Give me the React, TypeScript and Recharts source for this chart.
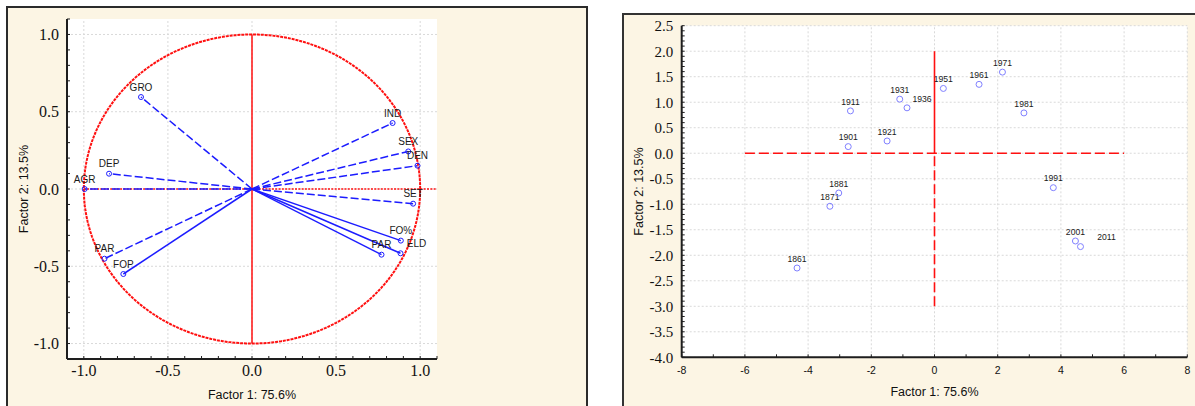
import React from 'react';
import { ScatterChart, Scatter, XAxis, YAxis, ReferenceLine, CartesianGrid } from 'recharts';

// ---------- Left chart: factor loadings of the variables ----------
const variableNames = ['GRO', 'DEP', 'AGR', 'IND', 'SEX', 'DEN', 'SET', 'FO%', 'ELD', 'PAR', 'PAR', 'FOP'];
const factor1Loadings = [-0.66, -0.85, -0.995, 0.836, 0.929, 0.984, 0.958, 0.885, 0.883, 0.77, -0.877, -0.765];
const factor2Loadings = [0.595, 0.099, 0.0, 0.427, 0.243, 0.151, -0.095, -0.334, -0.416, -0.425, -0.451, -0.55];
const dashedLoadings = [true, true, true, true, true, true, true, false, false, false, true, false];

const loadingMajorTicks = [-1, -0.5, 0, 0.5, 1];

// ---------- Right chart: factor scores of the census years ----------
const years = ['1861', '1871', '1881', '1901', '1911', '1921', '1931', '1936', '1951', '1961', '1971', '1981', '1991', '2001', '2011'];
const factor1Scores = [-4.35, -3.31, -3.03, -2.73, -2.66, -1.5, -1.1, -0.87, 0.28, 1.41, 2.15, 2.83, 3.76, 4.46, 4.62];
const factor2Scores = [-2.25, -1.04, -0.78, 0.13, 0.83, 0.24, 1.06, 0.89, 1.27, 1.35, 1.59, 0.79, -0.675, -1.72, -1.83];

const scoreXMajorTicks = [-8, -6, -4, -2, 0, 2, 4, 6, 8];
const scoreYMajorTicks = [-4, -3.5, -3, -2.5, -2, -1.5, -1, -0.5, 0, 0.5, 1, 1.5, 2, 2.5];

// ---------- derived tables ----------
const range = (from: number, to: number, div: number) => {
  const out: number[] = [];
  for (let i = from; i <= to; i++) out.push(i / div);
  return out;
};
const loadingMinorTicks = range(-11, 11, 10);
const scoreXMinorTicks = range(-8, 8, 1);
const scoreYMinorTicks = range(-40, 25, 10);

const loadingData = variableNames.map((name, i) => ({ name, x: factor1Loadings[i], y: factor2Loadings[i] }));
const scoreData = years.map((name, i) => ({ name, x: factor1Scores[i], y: factor2Scores[i] }));
// unit correlation circle (reference geometry, not data)
const unitCircle = Array.from({ length: 181 }, (_, i) => {
  const a = (i / 180) * 2 * Math.PI;
  return { x: Math.cos(a), y: Math.sin(a) };
});

const labelShiftX: Record<string, number> = { ELD: 16, '1936': 15, '2011': 26 };

const CREAM = '#fcf5e4';
const SERIF = '"Liberation Serif", "Times New Roman", serif';
const SANS = '"Liberation Sans", Arial, sans-serif';
const RED = '#ff1010';
const BLUE = '#1c1cff';
const GRID = '#d9d9d9';
const AXIS = '#1e1e1e';

const isMultiple = (v: number, step: number) => Math.abs(v / step - Math.round(v / step)) < 1e-6;
const fmtLoading = (v: number) => (isMultiple(v, 0.5) ? v.toFixed(1) : '');
const fmtScoreX = (v: number) => (isMultiple(v, 2) ? String(v) : '');
const fmtScoreY = (v: number) => (isMultiple(v, 0.5) ? v.toFixed(1) : '');

const Empty = () => <g />;

const makeMarker = (r: number, stroke: string, fontSize: number) => (p: any) => {
  const name = p.payload?.name ?? '';
  const shift = labelShiftX[name] || 0;
  return (
    <g>
      <circle cx={p.cx} cy={p.cy} r={r} fill="none" stroke={stroke} strokeWidth={1} />
      <text x={p.cx + shift} y={p.cy - 6.3} textAnchor="middle" fontSize={fontSize} fontFamily={SANS} fill="#1a1a1a">
        {name}
      </text>
    </g>
  );
};
const LoadingMarker = makeMarker(2.5, BLUE, 10);
const ScoreMarker = makeMarker(3, '#8080ff', 8.6);

const xTitle = (text: string, dy: number) => (props: any) => {
  const vb = props.viewBox || {};
  return (
    <text x={vb.x + vb.width / 2} y={vb.y + dy} textAnchor="middle" fontSize={12.5} fontFamily={SANS} fill="#111">
      {text}
    </text>
  );
};
const yTitle = (text: string, dx: number) => (props: any) => {
  const vb = props.viewBox || {};
  const x = vb.x + dx;
  const y = vb.y + vb.height / 2;
  return (
    <text x={x} y={y} transform={`rotate(-90 ${x} ${y})`} textAnchor="middle" dominantBaseline="central" fontSize={12.5} fontFamily={SANS} fill="#111">
      {text}
    </text>
  );
};

function LoadingsChart() {
  return (
    <ScatterChart width={600} height={406} margin={{ top: 19, right: 163, bottom: 17, left: 17 }}>
      <CartesianGrid horizontal={false} vertical={false} fill="#fff" />
      <XAxis
        type="number" dataKey="x" domain={[-1.1, 1.1]} allowDataOverflow ticks={loadingMinorTicks} interval={0}
        tickFormatter={fmtLoading} tickSize={-3} tickMargin={9} height={30}
        axisLine={{ stroke: AXIS, strokeWidth: 2 }} tickLine={{ stroke: AXIS }}
        tick={{ fontSize: 16, fontFamily: SERIF, fill: '#111' }}
        label={{ content: xTitle('Factor 1: 75.6%', 39.5) }}
      />
      <XAxis
        xAxisId="top" orientation="top" type="number" domain={[-1.1, 1.1]} allowDataOverflow ticks={loadingMinorTicks}
        interval={0} tick={false} tickSize={-3} height={0} axisLine={{ stroke: AXIS, strokeWidth: 2 }} tickLine={{ stroke: AXIS }}
      />
      <YAxis
        type="number" dataKey="y" domain={[-1.1, 1.1]} allowDataOverflow ticks={loadingMinorTicks} interval={0}
        tickFormatter={fmtLoading} tickSize={-3} tickMargin={11} width={50}
        axisLine={{ stroke: AXIS, strokeWidth: 2 }} tickLine={{ stroke: AXIS }}
        tick={{ fontSize: 16, fontFamily: SERIF, fill: '#111' }}
        label={{ content: yTitle('Factor 2: 13.5%', 6.5) }}
      />
      <YAxis
        yAxisId="right" orientation="right" type="number" domain={[-1.1, 1.1]} allowDataOverflow ticks={loadingMinorTicks}
        interval={0} tick={false} tickSize={-3} width={0} axisLine={{ stroke: AXIS, strokeWidth: 2 }} tickLine={{ stroke: AXIS }}
      />
      {loadingMajorTicks.map((v) => (
        <ReferenceLine key={'gx' + v} x={v} stroke={GRID} strokeDasharray="2 2" />
      ))}
      {loadingMajorTicks.map((v) => (
        <ReferenceLine key={'gy' + v} y={v} stroke={GRID} strokeDasharray="2 2" />
      ))}
      <ReferenceLine segment={[{ x: 0, y: -1 }, { x: 0, y: 1 }]} stroke={RED} strokeWidth={1.5} ifOverflow="visible" />
      <ReferenceLine segment={[{ x: -1, y: 0 }, { x: 1.1, y: 0 }]} stroke={RED} strokeWidth={1.6} strokeDasharray="2 1.3" ifOverflow="visible" />
      {loadingData.map((d, i) => (
        <ReferenceLine
          key={'l' + i}
          segment={[{ x: 0, y: 0 }, { x: d.x, y: d.y }]}
          stroke={BLUE}
          strokeWidth={1.5}
          strokeDasharray={dashedLoadings[i] ? '8 3' : undefined}
          ifOverflow="visible"
        />
      ))}
      <Scatter
        data={unitCircle} line={{ stroke: RED, strokeWidth: 2, strokeDasharray: '3 0.9' }} shape={Empty}
        isAnimationActive={false}
      />
      <Scatter data={loadingData} shape={LoadingMarker} isAnimationActive={false} />
    </ScatterChart>
  );
}

function ScoresChart() {
  return (
    <ScatterChart width={595} height={406} margin={{ top: 25.7, right: 7.7, bottom: 18.7, left: 31.7 }}>
      <CartesianGrid horizontal={false} vertical={false} fill="#fff" />
      <XAxis
        type="number" dataKey="x" domain={[-8, 8]} allowDataOverflow ticks={scoreXMinorTicks} interval={0}
        tickFormatter={fmtScoreX} tickSize={-3} tickMargin={12} height={30}
        axisLine={{ stroke: AXIS, strokeWidth: 2 }} tickLine={{ stroke: AXIS }}
        tick={{ fontSize: 10.5, fontFamily: SANS, fill: '#111' }}
        label={{ content: xTitle('Factor 1: 75.6%', 38.7) }}
      />
      <XAxis
        xAxisId="top" orientation="top" type="number" domain={[-8, 8]} allowDataOverflow ticks={scoreXMinorTicks}
        interval={0} tick={false} tickSize={-3} height={0} axisLine={{ stroke: AXIS, strokeWidth: 2 }} tickLine={{ stroke: AXIS }}
      />
      <YAxis
        type="number" dataKey="y" domain={[-4, 2.5]} allowDataOverflow ticks={scoreYMinorTicks} interval={0}
        tickFormatter={fmtScoreY} tickSize={-3} tickMargin={11.4} width={50}
        axisLine={{ stroke: AXIS, strokeWidth: 2 }} tickLine={{ stroke: AXIS }}
        tick={{ fontSize: 15, fontFamily: SERIF, fill: '#111' }}
        label={{ content: yTitle('Factor 2: 13.5%', 7.3) }}
      />
      <YAxis
        yAxisId="right" orientation="right" type="number" domain={[-4, 2.5]} allowDataOverflow ticks={scoreYMinorTicks}
        interval={0} tick={false} tickSize={-3} width={0} axisLine={{ stroke: AXIS, strokeWidth: 2 }} tickLine={{ stroke: AXIS }}
      />
      {scoreXMajorTicks.map((v) => (
        <ReferenceLine key={'gx' + v} x={v} stroke={GRID} strokeDasharray="2 2" />
      ))}
      {scoreYMajorTicks.map((v) => (
        <ReferenceLine key={'gy' + v} y={v} stroke={GRID} strokeDasharray="2 2" />
      ))}
      <ReferenceLine segment={[{ x: -6, y: 0 }, { x: 6, y: 0 }]} stroke={RED} strokeWidth={1.6} strokeDasharray="10 4" ifOverflow="visible" />
      <ReferenceLine segment={[{ x: 0, y: 0 }, { x: 0, y: 2 }]} stroke={RED} strokeWidth={1.6} ifOverflow="visible" />
      <ReferenceLine segment={[{ x: 0, y: -3 }, { x: 0, y: 0 }]} stroke={RED} strokeWidth={1.6} strokeDasharray="10 4" ifOverflow="visible" />
      <Scatter data={scoreData} shape={ScoreMarker} isAnimationActive={false} />
    </ScatterChart>
  );
}

export default function App() {
  return (
    <div style={{ position: 'absolute', left: 0, top: 0, width: 1195, height: 406, overflow: 'hidden', background: '#fff' }}>
      <div
        style={{
          position: 'absolute', left: 6, top: 6, width: 582, height: 420, boxSizing: 'border-box',
          border: '2px solid #2b2b2b', background: CREAM,
        }}
      />
      <div
        style={{
          position: 'absolute', left: 622, top: 13, width: 600, height: 420, boxSizing: 'border-box',
          border: '2px solid #333', background: CREAM,
        }}
      />
      <div style={{ position: 'absolute', left: 0, top: 0 }}>
        <LoadingsChart />
      </div>
      <div style={{ position: 'absolute', left: 600, top: 0 }}>
        <ScoresChart />
      </div>
    </div>
  );
}
